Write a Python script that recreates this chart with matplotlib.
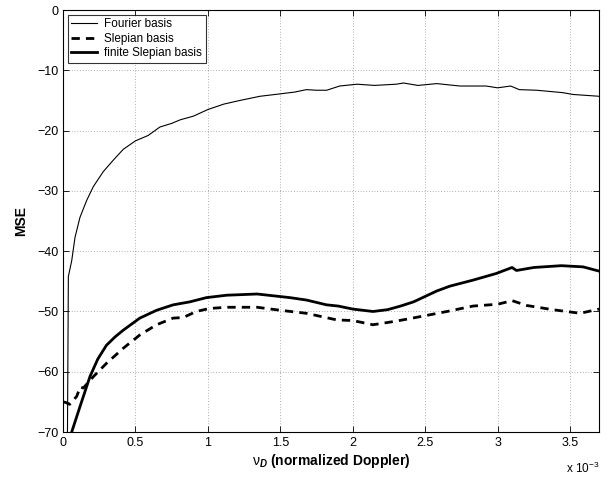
import matplotlib
matplotlib.use("Agg")
import matplotlib.pyplot as plt
import numpy as np

plt.rcParams['font.family'] = ['Liberation Sans', 'DejaVu Sans']
plt.rcParams['mathtext.fontset'] = 'custom'
plt.rcParams['mathtext.rm'] = 'Liberation Sans'
plt.rcParams['mathtext.it'] = 'Liberation Sans:italic'
plt.rcParams['mathtext.bf'] = 'Liberation Sans:bold'
plt.rcParams['mathtext.bfit'] = 'Liberation Sans:bold:italic'

# normalized Doppler in units of 1e-3
fourier_x = [0.0, 0.037, 0.06, 0.083, 0.117, 0.163, 0.209, 0.278, 0.347, 0.416, 0.5, 0.588, 0.669,
             0.75, 0.81, 0.90, 1.0, 1.11, 1.22, 1.36, 1.5, 1.6, 1.68, 1.75, 1.82, 1.91, 2.03,
             2.15, 2.3, 2.35, 2.45, 2.58, 2.74, 2.92, 3.0, 3.09, 3.15, 3.27, 3.45, 3.52, 3.7]
fourier_y = [-200, -44.2, -41.6, -37.7, -34.4, -31.6, -29.3, -26.8, -24.9, -23.1, -21.7, -20.8, -19.4,
             -18.8, -18.2, -17.6, -16.5, -15.6, -15.0, -14.3, -13.9, -13.6, -13.2, -13.3, -13.3, -12.6, -12.3,
             -12.5, -12.3, -12.1, -12.5, -12.2, -12.6, -12.6, -12.9, -12.6, -13.2, -13.3, -13.7, -14.0, -14.3]

slepian_x = [0.0, 0.02, 0.046, 0.094, 0.12, 0.14, 0.21, 0.30, 0.416, 0.53, 0.646, 0.76, 0.83,
             0.92, 1.01, 1.13, 1.34, 1.5, 1.68, 1.89, 2.0, 2.14, 2.3, 2.5, 2.65, 2.83, 3.0, 3.1,
             3.2, 3.38, 3.57, 3.7]
slepian_y = [-65.0, -65.1, -65.4, -64.1, -62.5, -62.7, -60.8, -58.6, -56.1, -53.9, -52.2, -51.1, -51.0,
             -50.0, -49.5, -49.3, -49.3, -49.8, -50.3, -51.4, -51.5, -52.2, -51.6, -50.7, -50.0, -49.1, -48.8, -48.2,
             -49.0, -49.7, -50.3, -49.6]

finite_x = [0.0, 0.06, 0.117, 0.186, 0.24, 0.30, 0.36, 0.416, 0.53, 0.646, 0.76, 0.876, 0.99, 1.13, 1.34,
            1.566, 1.68, 1.82, 1.9, 2.0, 2.14, 2.24, 2.33, 2.42, 2.5, 2.58, 2.67, 2.83, 2.99, 3.1, 3.13, 3.25,
            3.44, 3.59, 3.7]
finite_y = [-78, -70, -65.8, -60.8, -57.9, -55.6, -54.2, -53.1, -51.1, -49.8, -48.9, -48.4, -47.7, -47.3, -47.1,
            -47.7, -48.1, -48.9, -49.1, -49.6, -50.0, -49.7, -49.1, -48.4, -47.5, -46.6, -45.8, -44.8, -43.7, -42.7, -43.2, -42.7,
            -42.4, -42.6, -43.3]

x_ticks = [0, 0.5, 1, 1.5, 2, 2.5, 3, 3.5]
x_tick_labels = ['0', '0.5', '1', '1.5', '2', '2.5', '3', '3.5']
y_ticks = [-70, -60, -50, -40, -30, -20, -10, 0]

fig = plt.figure(figsize=(6.14, 4.79), dpi=100)
ax = fig.add_axes([0.1026, 0.098, 0.873, 0.881])

ax.plot(fourier_x, fourier_y, color='black', lw=0.8, label='Fourier basis')
ax.plot(slepian_x, slepian_y, color='black', lw=2.0, ls=(0, (3, 2.2)), label='Slepian basis')
ax.plot(finite_x, finite_y, color='black', lw=2.0, label='finite Slepian basis')

ax.set_xlim(0, 3.7)
ax.set_ylim(-70, 0)
ax.set_xticks(x_ticks, x_tick_labels)
ax.set_yticks(y_ticks)
ax.tick_params(direction='in', top=True, right=True, labelsize=9, length=4, width=0.6)
ax.grid(True, ls=(0, (1, 3)), color='black', lw=0.5, alpha=0.6)
for s in ax.spines.values():
    s.set_linewidth(0.8)

ax.set_ylabel('MSE', fontsize=10, fontweight='bold', labelpad=6)
ax.set_xlabel(r'$\mathrm{\nu}_{\mathbfit{D}}$ (normalized Doppler)', fontsize=10, fontweight='bold', labelpad=2)
ax.text(1.0, -0.068, r'x 10$^{-3}$', transform=ax.transAxes, fontsize=8.5, ha='right', va='top')

leg = ax.legend(loc='upper left', fontsize=8.5, frameon=True, fancybox=False, borderaxespad=0.4,
                handlelength=2.2, borderpad=0.3, labelspacing=0.2, handletextpad=0.6)
leg.get_frame().set_edgecolor('black')
leg.get_frame().set_linewidth(0.8)

fig.savefig('out.png', dpi=100)
